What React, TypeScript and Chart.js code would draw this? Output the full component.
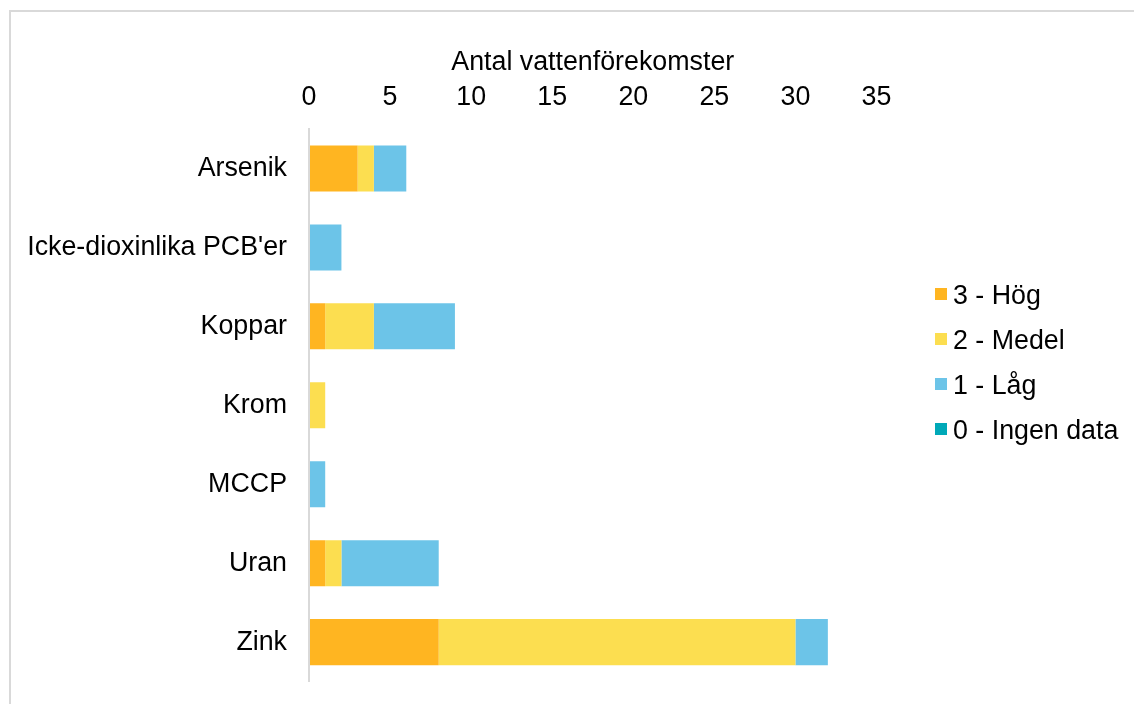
import React, { useEffect, useRef } from "react";
import { Chart, registerables } from "chart.js";

Chart.register(...registerables);

const categories = ["Arsenik", "Icke-dioxinlika PCB'er", "Koppar", "Krom", "MCCP", "Uran", "Zink"];
const seriesNames = ["3 - Hög", "2 - Medel", "1 - Låg", "0 - Ingen data"];
const hog = [3, 0, 1, 0, 0, 1, 8];
const medel = [1, 0, 3, 1, 0, 1, 22];
const lag = [2, 2, 5, 0, 1, 6, 2];
const ingenData = [0, 0, 0, 0, 0, 0, 0];
const seriesColors = ["#FFB521", "#FCDE50", "#6CC4E8", "#00A9B8"];
const axisTitle = "Antal vattenförekomster";
const xMin = 0;
const xMax = 35;
const xStep = 5;

const FONT = "'Liberation Sans', Arial, sans-serif";
const FS = 26.8;

const legendPlugin = {
  id: "sideLegend",
  afterDraw(chart: any) {
    const ctx = chart.ctx;
    ctx.save();
    ctx.font = `${FS}px ${FONT}`;
    ctx.textBaseline = "middle";
    ctx.textAlign = "left";
    chart.data.datasets.forEach((ds: any, i: number) => {
      const cy = 297 + i * 45;
      ctx.fillStyle = ds.backgroundColor;
      ctx.fillRect(935, cy - 9, 12, 12);
      ctx.fillStyle = "#000000";
      ctx.fillText(ds.label, 953, cy);
    });
    ctx.restore();
  },
};

export default function App() {
  const canvasRef = useRef<HTMLCanvasElement | null>(null);

  useEffect(() => {
    const canvas = canvasRef.current;
    if (!canvas) return;
    const seriesData = [hog, medel, lag, ingenData];
    const chart = new Chart(canvas, {
      type: "bar",
      data: {
        labels: categories,
        datasets: seriesNames.map((name, i) => ({
          label: name,
          data: seriesData[i],
          backgroundColor: seriesColors[i],
          borderWidth: 0,
          categoryPercentage: 1,
          barPercentage: 0.583,
        })),
      },
      options: {
        indexAxis: "y",
        responsive: false,
        animation: false,
        devicePixelRatio: 1,
        layout: { padding: { left: 0, top: 0, right: 257.5, bottom: 22.4 } },
        plugins: {
          legend: { display: false },
          tooltip: { enabled: false },
        },
        scales: {
          x: {
            type: "linear",
            position: "top",
            stacked: true,
            min: xMin,
            max: xMax,
            grid: { display: false, drawTicks: false },
            border: { display: false },
            ticks: {
              stepSize: xStep,
              color: "#000000",
              font: { family: FONT, size: FS },
              padding: 15,
            },
            title: {
              display: true,
              text: axisTitle,
              color: "#000000",
              font: { family: FONT, size: FS },
              padding: { top: 46.5, bottom: 0 },
            },
            afterFit(scale: any) {
              scale.height = 129;
              scale.paddingLeft = 0;
              scale.paddingRight = 0;
            },
          },
          y: {
            type: "category",
            stacked: true,
            grid: { display: false, drawTicks: false },
            border: { display: true, color: "#D9D9D9", width: 2, z: 1 },
            ticks: {
              color: "#000000",
              font: { family: FONT, size: FS },
              padding: 22,
            },
            afterFit(scale: any) {
              scale.width = 309;
              scale.paddingTop = 0;
              scale.paddingBottom = 0;
            },
          },
        },
      },
      plugins: [legendPlugin],
    });
    return () => chart.destroy();
  }, []);

  return (
    <div
      style={{
        position: "fixed",
        left: 0,
        top: 0,
        width: 1134,
        height: 704,
        overflow: "hidden",
        background: "#ffffff",
      }}
    >
      <div
        style={{
          position: "absolute",
          left: 9,
          top: 10,
          width: 1200,
          height: 800,
          border: "2px solid #D9D9D9",
          boxSizing: "border-box",
        }}
      />
      <canvas
        ref={canvasRef}
        width={1134}
        height={704}
        style={{ position: "absolute", left: 0, top: 0, width: 1134, height: 704 }}
      />
    </div>
  );
}
